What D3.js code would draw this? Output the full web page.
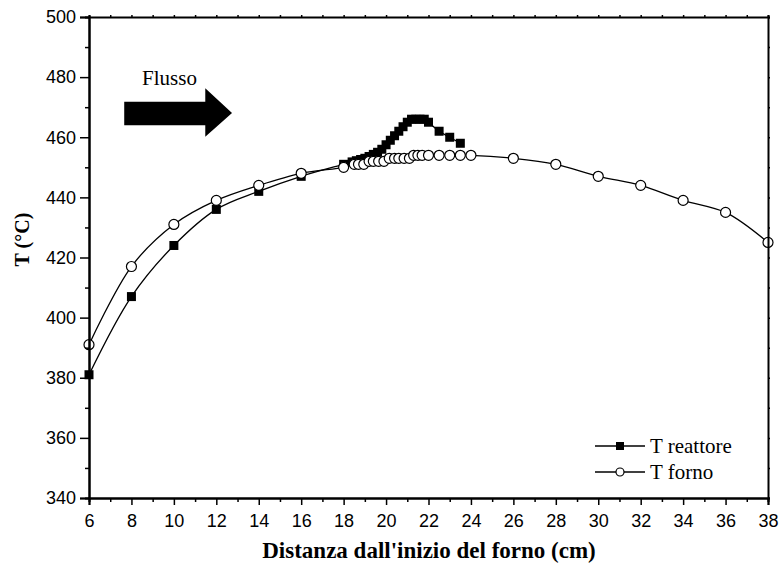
<!DOCTYPE html>
<html>
<head>
<meta charset="utf-8">
<script src="https://cdn.jsdelivr.net/npm/d3@7/dist/d3.min.js"></script>
<style>
  body { margin: 0; background: #fff; }
  svg { display: block; }
  .tick text { font-family: "Liberation Sans", Arial, sans-serif; font-size: 18px; fill: #000; }
  .serif { font-family: "Liberation Serif", "Times New Roman", serif; fill: #000; }
</style>
</head>
<body>
<svg id="chart" width="779" height="567"></svg>
<script>
// Distance from the furnace inlet (cm) and temperatures (°C)
const xReattore = [6, 8, 10, 12, 14, 16, 18, 18.4, 18.6, 18.8, 19.0, 19.2, 19.4, 19.6, 19.8, 20.0,
                   20.2, 20.4, 20.6, 20.8, 21.0, 21.2, 21.4, 21.6, 21.8, 22.0, 22.5, 23.0, 23.5];
const tReattore = [381, 407, 424, 436, 442, 447, 451, 451.8, 452.2, 452.6, 453, 453.6, 454.3, 455, 456, 457.5,
                   459, 460.5, 462, 463.5, 465, 466, 466, 466, 466, 465, 462, 460, 458];

const xForno = [6, 8, 10, 12, 14, 16, 18, 18.5, 18.7, 18.95, 19.2, 19.4, 19.65, 19.9, 20.15, 20.4,
                20.6, 20.85, 21.1, 21.3, 21.5, 21.7, 22.0, 22.5, 23.0, 23.5, 24, 26, 28, 30, 32, 34, 36, 38];
const tForno = [391, 417, 431, 439, 444, 448, 450, 451, 451, 451, 452, 452, 452, 452, 453, 453,
                453, 453, 453, 454, 454, 454, 454, 454, 454, 454, 454, 453, 451, 447, 444, 439, 435, 425];

const xDomain = [6, 38];
const yDomain = [340, 500];
const xMajorTicks = d3.range(6, 39, 2);
const xMinorTicks = d3.range(7, 38, 2);
const yMajorTicks = d3.range(340, 501, 20);
const yMinorTicks = d3.range(350, 500, 20);

const seriesNames = ["T reattore", "T forno"];
const xTitle = "Distanza dall'inizio del forno (cm)";
const yTitle = "T (°C)";
const flowLabel = "Flusso";

// Block arrow outline in data units (cm, °C)
const arrowX = [7.66, 11.48, 11.48, 12.74, 11.48, 11.48, 7.66];
const arrowY = [471.8, 471.8, 476.3, 468.1, 460.2, 464.0, 464.0];

const W = 779, H = 567;
const margin = { top: 17, right: 11, bottom: 69, left: 89 };
const svg = d3.select("#chart");

const x = d3.scaleLinear().domain(xDomain).range([margin.left, W - margin.right]);
const y = d3.scaleLinear().domain(yDomain).range([H - margin.bottom, margin.top]);

const line = d3.line().curve(d3.curveCatmullRom.alpha(0.5)).x(d => x(d[0])).y(d => y(d[1]));

const reattore = xReattore.map((v, i) => [v, tReattore[i]]);
const forno = xForno.map((v, i) => [v, tForno[i]]);

// Reactor series: line + filled squares
const sq = 9;
svg.append("path").attr("d", line(reattore))
  .attr("fill", "none").attr("stroke", "#000").attr("stroke-width", 1.3);
svg.append("g").selectAll("rect").data(reattore).join("rect")
  .attr("x", d => x(d[0]) - sq / 2).attr("y", d => y(d[1]) - sq / 2)
  .attr("width", sq).attr("height", sq).attr("fill", "#000");

// Furnace series: line + open circles
svg.append("path").attr("d", line(forno))
  .attr("fill", "none").attr("stroke", "#000").attr("stroke-width", 1.3);
svg.append("g").selectAll("circle").data(forno).join("circle")
  .attr("cx", d => x(d[0])).attr("cy", d => y(d[1])).attr("r", 5)
  .attr("fill", "#fff").attr("stroke", "#000").attr("stroke-width", 1.2);

// Axes
function styleAxis(g) {
  g.select(".domain").attr("stroke", "#000").attr("stroke-width", 2);
  g.selectAll(".tick line").attr("stroke", "#000").attr("stroke-width", 1.5);
}
const bottomY = H - margin.bottom;
svg.append("g").attr("transform", `translate(0,${bottomY})`)
  .call(d3.axisBottom(x).tickValues(xMinorTicks).tickSize(4).tickFormat(""))
  .call(styleAxis);
svg.append("g").attr("transform", `translate(0,${bottomY})`)
  .call(d3.axisBottom(x).tickValues(xMajorTicks).tickSize(7).tickPadding(9).tickFormat(d3.format("d")))
  .call(styleAxis);
svg.append("g").attr("transform", `translate(${margin.left},0)`)
  .call(d3.axisLeft(y).tickValues(yMinorTicks).tickSize(4).tickFormat(""))
  .call(styleAxis);
svg.append("g").attr("transform", `translate(${margin.left},0)`)
  .call(d3.axisLeft(y).tickValues(yMajorTicks).tickSize(9).tickPadding(4).tickFormat(d3.format("d")))
  .call(styleAxis);
svg.append("g").attr("transform", `translate(0,${margin.top})`)
  .call(d3.axisTop(x).tickValues(d3.range(6, 39, 1)).tickSize(2).tickFormat(""))
  .call(styleAxis);
svg.append("g").attr("transform", `translate(${W - margin.right},0)`)
  .call(d3.axisRight(y).tickValues(d3.range(340, 501, 10)).tickSize(2).tickFormat(""))
  .call(styleAxis);

// Axis titles
svg.append("text").attr("class", "serif")
  .attr("x", 429).attr("y", 558)
  .attr("text-anchor", "middle").attr("font-size", 23).attr("font-weight", "bold")
  .text(xTitle);
svg.append("text").attr("class", "serif")
  .attr("transform", `translate(29,${(y.range()[0] + y.range()[1]) / 2 - 18}) rotate(-90)`)
  .attr("text-anchor", "middle").attr("font-size", 20).attr("font-weight", "bold")
  .text(yTitle);

// Flow arrow annotation
svg.append("path")
  .attr("d", d3.line()(arrowX.map((v, i) => [x(v), y(arrowY[i])])) + "Z")
  .attr("fill", "#000");
svg.append("text").attr("class", "serif")
  .attr("x", x(8.5)).attr("y", y(477.4)).attr("font-size", 21)
  .text(flowLabel);

// Legend
const legX = W - margin.right - 173, legY = 446, legGap = 26;
const leg = svg.append("g");
seriesNames.forEach((name, i) => {
  const gy = legY + i * legGap;
  leg.append("line").attr("x1", legX).attr("x2", legX + 50).attr("y1", gy).attr("y2", gy)
    .attr("stroke", "#000").attr("stroke-width", 1.3);
  if (i === 0) {
    leg.append("rect").attr("x", legX + 25 - 4).attr("y", gy - 4).attr("width", 8).attr("height", 8).attr("fill", "#000");
  } else {
    leg.append("circle").attr("cx", legX + 25).attr("cy", gy).attr("r", 4)
      .attr("fill", "#fff").attr("stroke", "#000").attr("stroke-width", 1.2);
  }
  leg.append("text").attr("class", "serif").attr("x", legX + 55).attr("y", gy + 7)
    .attr("font-size", 21).text(name);
});
</script>
</body>
</html>
